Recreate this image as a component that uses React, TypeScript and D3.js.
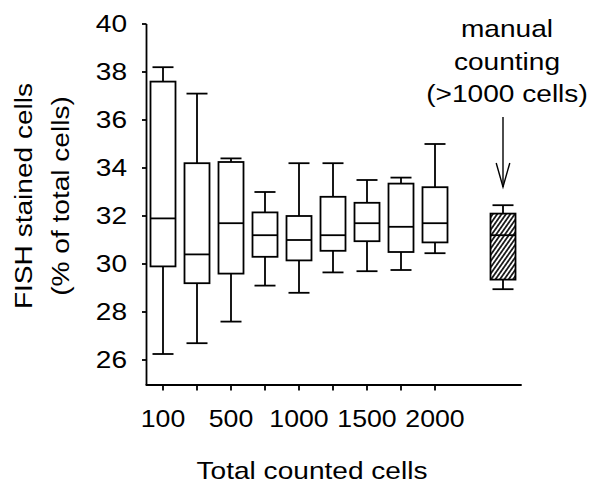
import React from "react";
import * as d3 from "d3";

const categories = ["100", "250", "500", "750", "1000", "1250", "1500", "1750", "2000"];
const tickLabels = ["100", "", "500", "", "1000", "", "1500", "", "2000"];
const whiskerHigh = [38.2, 37.1, 34.4, 33.0, 34.2, 34.2, 33.5, 33.6, 35.0];
const q3 = [37.6, 34.2, 34.25, 32.15, 32.0, 32.8, 32.55, 33.35, 33.2];
const median = [31.9, 30.4, 31.7, 31.2, 31.0, 31.2, 31.7, 31.55, 31.7];
const q1 = [29.9, 29.2, 29.6, 30.3, 30.15, 30.55, 30.95, 30.5, 30.9];
const whiskerLow = [26.25, 26.7, 27.6, 29.1, 28.8, 29.65, 29.7, 29.75, 30.45];

const manualBox = { low: 28.95, q1: 29.35, median: 31.2, q3: 32.1, high: 32.45 };
const yTicks = [26, 28, 30, 32, 34, 36, 38, 40];
const annotation = ["manual", "counting", "(>1000 cells)"];
const yTitle = ["FISH stained cells", "(% of total cells)"];
const xTitle = "Total counted cells";

const FONT = "'Liberation Sans', Arial, Helvetica, sans-serif";
const SX = 1.17;

export default function App() {
  const x = d3.scaleLinear().domain([0, 10]).range([163, 503]);
  const y = d3.scaleLinear().domain([26, 40]).range([360, 24]);
  const axisBottomY = 385;
  const axisLeftX = 146.5;
  const axisRightX = x(10.55);
  const boxW = 25;
  const capW = 21;
  const manualIdx = 10;

  const boxes = categories.map((c, i) => ({
    c,
    i,
    hi: whiskerHigh[i],
    q3: q3[i],
    med: median[i],
    q1: q1[i],
    lo: whiskerLow[i],
  }));

  const drawBox = (
    key: string,
    cx: number,
    b: { hi: number; q3: number; med: number; q1: number; lo: number },
    fill: string
  ) => (
    <g key={key} stroke="#000" strokeWidth={1.8} fill="none">
      <line x1={cx} x2={cx} y1={y(b.hi)} y2={y(b.q3)} />
      <line x1={cx} x2={cx} y1={y(b.q1)} y2={y(b.lo)} />
      <line x1={cx - capW / 2} x2={cx + capW / 2} y1={y(b.hi)} y2={y(b.hi)} />
      <line x1={cx - capW / 2} x2={cx + capW / 2} y1={y(b.lo)} y2={y(b.lo)} />
      <rect x={cx - boxW / 2} y={y(b.q3)} width={boxW} height={y(b.q1) - y(b.q3)} fill={fill} />
      <line x1={cx - boxW / 2} x2={cx + boxW / 2} y1={y(b.med)} y2={y(b.med)} />
    </g>
  );

  const arrowX = x(manualIdx);
  const arrowTop = 117;
  const arrowTip = 187;

  return (
    <svg
      width={594}
      height={485}
      style={{ position: "absolute", left: 0, top: 0, background: "#fff" }}
      fontFamily={FONT}
    >
      <defs>
        <pattern
          id="hatch"
          width={3.6}
          height={6}
          patternUnits="userSpaceOnUse"
          patternTransform="rotate(35)"
        >
          <rect width={3.6} height={6} fill="#fff" />
          <line x1={0.9} x2={0.9} y1={0} y2={6} stroke="#000" strokeWidth={1.6} />
        </pattern>
      </defs>
      <rect width={594} height={485} fill="#fff" />

      {/* axes */}
      <g stroke="#000" strokeWidth={1.8} fill="none">
        <line x1={axisLeftX} x2={axisLeftX} y1={y(40)} y2={axisBottomY} />
        <line x1={axisLeftX - 0.9} x2={axisRightX} y1={axisBottomY} y2={axisBottomY} />
        {yTicks.map((t) => (
          <line key={t} x1={axisLeftX - 4.5} x2={axisLeftX} y1={y(t)} y2={y(t)} />
        ))}
        {categories.map((c, i) => (
          <line key={c} x1={x(i)} x2={x(i)} y1={axisBottomY} y2={axisBottomY + 5.5} />
        ))}
      </g>

      {/* y tick labels */}
      {yTicks.map((t) => (
        <text
          key={t}
          transform={`translate(127,${y(t) + 8}) scale(${SX},1)`}
          textAnchor="end"
          fontSize={24}
          fill="#000"
        >
          {t}
        </text>
      ))}

      {/* x tick labels */}
      {tickLabels.map((l, i) =>
        l ? (
          <text
            key={i}
            transform={`translate(${x(i)},427) scale(${SX * 0.95},1)`}
            textAnchor="middle"
            fontSize={24}
            fill="#000"
          >
            {l}
          </text>
        ) : null
      )}

      {/* boxes */}
      {boxes.map((b) => drawBox(b.c, x(b.i), b, "#fff"))}
      {drawBox(
        "manual",
        x(manualIdx),
        { hi: manualBox.high, q3: manualBox.q3, med: manualBox.median, q1: manualBox.q1, lo: manualBox.low },
        "url(#hatch)"
      )}

      {/* annotation */}
      {annotation.map((l, i) => (
        <text
          key={l}
          transform={`translate(507,${37 + i * 32.5}) scale(${SX},1)`}
          textAnchor="middle"
          fontSize={24}
          fill="#000"
        >
          {l}
        </text>
      ))}
      <g stroke="#000" strokeWidth={1.4} fill="none">
        <line x1={arrowX} x2={arrowX} y1={arrowTop} y2={arrowTip} />
        <polyline
          points={`${arrowX - 6.8},${arrowTip - 24} ${arrowX},${arrowTip} ${arrowX + 6.8},${arrowTip - 24}`}
        />
      </g>

      {/* axis titles */}
      <text
        transform={`translate(312,479) scale(${SX},1)`}
        textAnchor="middle"
        fontSize={24}
        fill="#000"
      >
        {xTitle}
      </text>
      {yTitle.map((l, i) => (
        <text
          key={l}
          transform={`translate(${32 + i * 36.5},196) rotate(-90) scale(${SX},1)`}
          textAnchor="middle"
          fontSize={24}
          fill="#000"
        >
          {l}
        </text>
      ))}
    </svg>
  );
}
